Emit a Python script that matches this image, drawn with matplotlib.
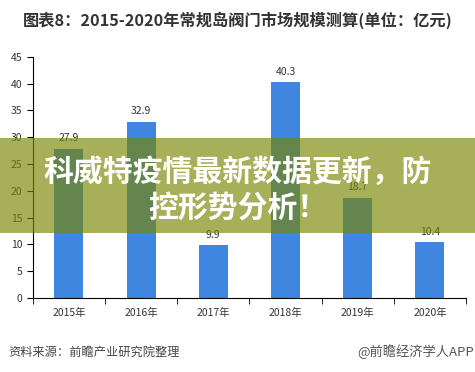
import matplotlib.pyplot as plt
from matplotlib.patches import Rectangle

plt.rcParams['font.family'] = ['Noto Sans CJK SC', 'DejaVu Sans']

years = ["2015年", "2016年", "2017年", "2018年", "2019年", "2020年"]
values = [27.9, 32.9, 9.9, 40.3, 18.7, 10.4]
yticks = [0, 5, 10, 15, 20, 25, 30, 35, 40, 45]

fig = plt.figure(figsize=(4.75, 3.72), dpi=100)
ax = fig.add_axes([0.069, 0.199, 0.912, 0.648])

x = range(len(years))
ax.bar(x, values, width=0.4, color="#3e86e0")
for i, v in zip(x, values):
    ax.text(i, v + 1.0, str(v), ha="center", va="bottom", fontsize=7.5, color="#333333")

ax.set_xlim(-0.5, len(years) - 0.5)
ax.set_ylim(0, 45)
ax.set_yticks(yticks)
ax.set_xticks(x)
ax.set_xticklabels(years)
ax.set_xticks([i - 0.5 for i in range(len(years) + 1)], minor=True)
ax.tick_params(axis="x", which="major", length=0, labelsize=7.5, pad=7, colors="#333333")
ax.tick_params(axis="x", which="minor", length=4, direction="out", color="black")
ax.tick_params(axis="y", length=4, labelsize=7.5, colors="#333333")
ax.tick_params(axis="y", color="black")
for s in ["top", "right"]:
    ax.spines[s].set_visible(False)

fig.text(0.5, 0.946, "图表8：2015-2020年常规岛阀门市场规模测算(单位：亿元)",
         ha="center", va="center", fontsize=11.7, fontweight="bold", color="#333333")
fig.text(0.017, 0.054, "资料来源：前瞻产业研究院整理", ha="left", va="center",
         fontsize=8.8, color="#444444")
fig.text(0.997, 0.054, "@前瞻经济学人APP", ha="right", va="center",
         fontsize=9.5, color="#555555")

# banner overlay
fig.patches.append(Rectangle((0, 1 - 233 / 372), 1, 95 / 372, transform=fig.transFigure,
                             facecolor=(121 / 255, 134 / 255, 0), alpha=0.65,
                             edgecolor="none", zorder=5))
fig.text(0.5, 1 - 172 / 372, "科威特疫情最新数据更新，防", ha="center", va="center",
         fontsize=21.5, fontweight="bold", color="white", zorder=6)
fig.text(0.5, 1 - 208 / 372, "控形势分析！", ha="center", va="center",
         fontsize=21.5, fontweight="bold", color="white", zorder=6)

fig.savefig("out.png", dpi=100)
